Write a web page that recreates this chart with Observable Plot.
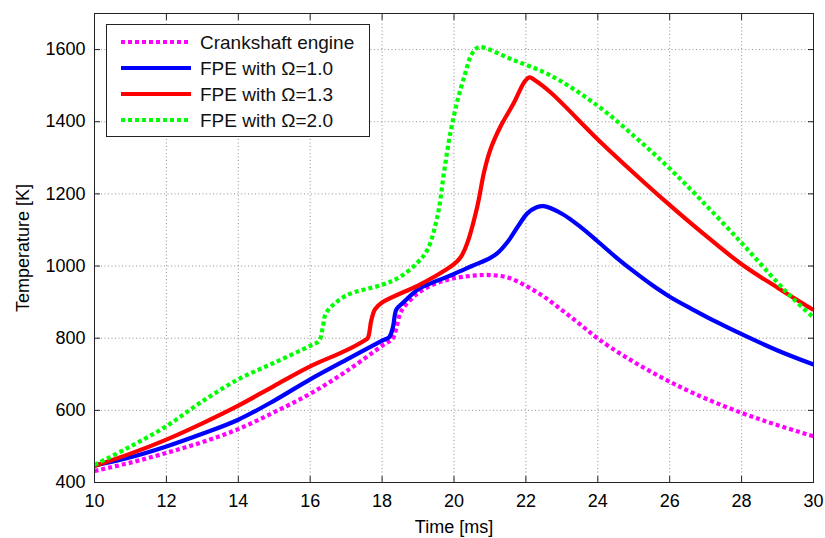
<!DOCTYPE html>
<html>
<head>
<meta charset="utf-8">
<script src="https://cdn.jsdelivr.net/npm/d3@7"></script>
<script src="https://cdn.jsdelivr.net/npm/@observablehq/plot@0.6"></script>
<style>
  html, body { margin: 0; padding: 0; background: white; }
  #wrap { position: relative; width: 825px; height: 538px; }
</style>
</head>
<body>
<div id="wrap"></div>
<script>
// ---- data ----
const xTicks = [10, 12, 14, 16, 18, 20, 22, 24, 26, 28, 30];
const yTicks = [400, 600, 800, 1000, 1200, 1400, 1600];

const seriesNames = ["Crankshaft engine", "FPE with \u03A9=1.0", "FPE with \u03A9=1.3", "FPE with \u03A9=2.0"];

const crankTime = [10, 11, 12, 13, 14, 15, 16, 17, 18, 18.3, 18.4, 18.5, 18.6, 19, 19.5, 20, 20.5, 21, 21.5, 22, 22.5, 23, 23.5, 24, 24.82, 25.74, 26.67, 28, 29, 30];
const crankTemp = [432, 455, 482, 512, 548, 595, 646, 708, 779, 800, 830, 868, 885, 925, 952, 966, 973, 975, 968, 945, 915, 878, 839, 799, 745, 693, 647, 593, 559, 528];

const fpe10Time = [10, 11, 12, 13, 14, 15, 16, 17, 18, 18.2, 18.3, 18.4, 18.6, 19, 19.5, 20, 20.5, 21, 21.2, 21.5, 21.8, 22.04, 22.3, 22.5, 23, 23.5, 24, 24.5, 25, 25.5, 26, 26.67, 27.3, 28, 29, 30];
const fpe10Temp = [447, 470, 500, 535, 574, 627, 686, 740, 793, 803, 830, 880, 900, 935, 958, 978, 1000, 1022, 1035, 1068, 1113, 1146, 1163, 1166, 1145, 1110, 1068, 1025, 985, 948, 915, 878, 845, 811, 766, 727];

const fpe13Time = [10, 11, 12, 13, 14, 15, 16, 17, 17.5, 17.6, 17.7, 17.8, 18, 19, 19.5, 20, 20.19, 20.37, 20.65, 20.84, 21.02, 21.3, 21.67, 21.95, 22.1, 22.25, 22.69, 24, 25, 25.93, 26.86, 28, 29, 30];
const fpe13Temp = [446, 480, 519, 564, 613, 668, 722, 766, 793, 800, 850, 880, 899, 946, 973, 1005, 1025, 1064, 1166, 1262, 1325, 1388, 1453, 1509, 1523, 1515, 1481, 1351, 1258, 1175, 1096, 1005, 940, 878];

const fpe20Time = [10, 11, 12, 13, 14, 15, 16, 16.25, 16.35, 16.45, 17, 18, 18.5, 19, 19.26, 19.54, 19.72, 19.9, 20.1, 20.3, 20.45, 20.6, 20.74, 21.58, 22.69, 24, 25, 25.93, 26.86, 28, 29, 29.45, 30];
const fpe20Temp = [449, 500, 556, 625, 686, 732, 779, 793, 830, 871, 918, 948, 970, 1011, 1045, 1138, 1258, 1370, 1460, 1530, 1578, 1602, 1607, 1574, 1528, 1444, 1361, 1277, 1184, 1064, 954, 908, 857];

// ---- build table ----
const colors = ["#ff00ff", "#0000ff", "#ff0000", "#00ff00"];
const dashes = ["4,3", null, null, "4,3"];
const times = [crankTime, fpe10Time, fpe13Time, fpe20Time];
const temps = [crankTemp, fpe10Temp, fpe13Temp, fpe20Temp];
const series = seriesNames.map((name, i) => times[i].map((t, j) => ({name, time: t, temp: temps[i][j]})));

const font = "'Liberation Sans', Arial, Helvetica, sans-serif";

const lineMarks = series.map((d, i) => Plot.line(d, {
  x: "time", y: "temp", stroke: colors[i], strokeWidth: 4.2,
  strokeLinecap: "butt", strokeLinejoin: "round",
  strokeDasharray: dashes[i] || undefined, curve: "catmull-rom"
}));

const chart = Plot.plot({
  width: 825, height: 538,
  marginLeft: 94, marginRight: 12, marginTop: 13, marginBottom: 56,
  style: {fontFamily: font, fontSize: "18px", background: "white", color: "black", overflow: "visible"},
  x: {domain: [10, 30], ticks: xTicks, label: null},
  y: {domain: [400, 1700], ticks: yTicks, label: null},
  marks: [
    Plot.gridX(xTicks, {stroke: "#777", strokeOpacity: 0.8, strokeDasharray: "1,2.5"}),
    Plot.gridY(yTicks, {stroke: "#777", strokeOpacity: 0.8, strokeDasharray: "1,2.5"}),
    ...lineMarks,
    Plot.frame({stroke: "#222"}),
    // inward tick marks on all four sides
    Plot.axisX(xTicks, {anchor: "bottom", tickSize: 6, dy: -6, text: null, stroke: "#222"}),
    Plot.axisX(xTicks, {anchor: "top", tickSize: 6, dy: 6, text: null, stroke: "#222"}),
    Plot.axisY(yTicks, {anchor: "left", tickSize: 6, dx: 6, text: null, stroke: "#222"}),
    Plot.axisY(yTicks, {anchor: "right", tickSize: 6, dx: -6, text: null, stroke: "#222"}),
    // labels
    Plot.axisX(xTicks, {anchor: "bottom", tickSize: 0, tickPadding: 12, fontSize: 18, tickFormat: d => String(d),
      label: "Time [ms]", labelAnchor: "center", labelArrow: "none", labelOffset: 50}),
    Plot.axisY(yTicks, {anchor: "left", tickSize: 0, tickPadding: 9, fontSize: 18, tickFormat: d => String(d),
      label: "Temperature [K]", labelAnchor: "center", labelArrow: "none", labelOffset: 78})
  ]
});

const wrap = document.getElementById("wrap");
wrap.appendChild(chart);

// ---- legend (inside the axes, top-left) ----
const svg = d3.select(chart);
const lg = svg.append("g").attr("font-family", font).attr("font-size", 19).attr("text-anchor", "start");
lg.append("rect").attr("x", 106.5).attr("y", 24.5).attr("width", 263).attr("height", 112)
  .attr("fill", "white").attr("stroke", "#222").attr("stroke-width", 1);
const rowY = [42, 68, 94, 120];
seriesNames.forEach((name, i) => {
  lg.append("line").attr("x1", 121).attr("x2", 191).attr("y1", rowY[i]).attr("y2", rowY[i])
    .attr("stroke", colors[i]).attr("stroke-width", 4).attr("stroke-linecap", "butt")
    .attr("stroke-dasharray", dashes[i]);
  lg.append("text").attr("x", 200).attr("y", rowY[i]).attr("dy", "0.35em")
    .attr("text-anchor", "start").attr("fill", "#111").text(name);
});
</script>
</body>
</html>
